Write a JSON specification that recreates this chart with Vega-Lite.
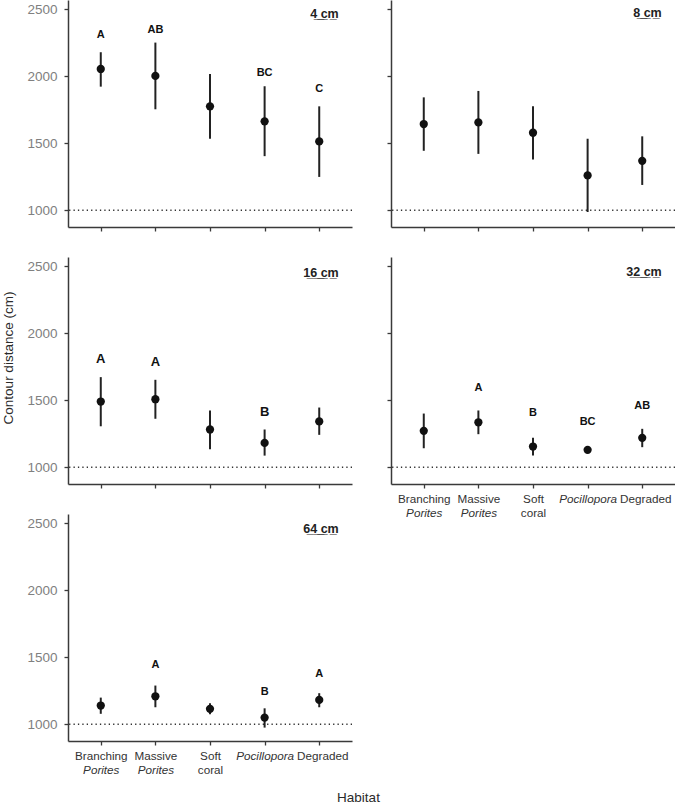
{
 "$schema": "https://vega.github.io/schema/vega-lite/v6.json",
 "padding": {"left": 0, "top": 0, "right": 0, "bottom": 0},
 "autosize": {"type": "pad"},
 "background": "white",
 "data": {"values": [
  {"panel": "4 cm", "habitat": "Branching Porites", "mean": 2055, "lo": 1923, "hi": 2180, "letter": "A", "ly": 2310},
  {"panel": "4 cm", "habitat": "Massive Porites", "mean": 2003, "lo": 1754, "hi": 2252, "letter": "AB", "ly": 2347},
  {"panel": "4 cm", "habitat": "Soft coral", "mean": 1776, "lo": 1534, "hi": 2018, "letter": null, "ly": null},
  {"panel": "4 cm", "habitat": "Pocillopora", "mean": 1664, "lo": 1404, "hi": 1926, "letter": "BC", "ly": 2028},
  {"panel": "4 cm", "habitat": "Degraded", "mean": 1514, "lo": 1249, "hi": 1776, "letter": "C", "ly": 1903},
  {"panel": "8 cm", "habitat": "Branching Porites", "mean": 1644, "lo": 1444, "hi": 1843, "letter": null, "ly": null},
  {"panel": "8 cm", "habitat": "Massive Porites", "mean": 1656, "lo": 1421, "hi": 1891, "letter": null, "ly": null},
  {"panel": "8 cm", "habitat": "Soft coral", "mean": 1579, "lo": 1379, "hi": 1776, "letter": null, "ly": null},
  {"panel": "8 cm", "habitat": "Pocillopora", "mean": 1260, "lo": 987, "hi": 1534, "letter": null, "ly": null},
  {"panel": "8 cm", "habitat": "Degraded", "mean": 1369, "lo": 1189, "hi": 1552, "letter": null, "ly": null},
  {"panel": "16 cm", "habitat": "Branching Porites", "mean": 1491, "lo": 1306, "hi": 1673, "letter": "A", "ly": 1810},
  {"panel": "16 cm", "habitat": "Massive Porites", "mean": 1508, "lo": 1362, "hi": 1653, "letter": "A", "ly": 1785},
  {"panel": "16 cm", "habitat": "Soft coral", "mean": 1282, "lo": 1135, "hi": 1424, "letter": null, "ly": null},
  {"panel": "16 cm", "habitat": "Pocillopora", "mean": 1182, "lo": 1087, "hi": 1282, "letter": "B", "ly": 1411},
  {"panel": "16 cm", "habitat": "Degraded", "mean": 1342, "lo": 1242, "hi": 1446, "letter": null, "ly": null},
  {"panel": "32 cm", "habitat": "Branching Porites", "mean": 1272, "lo": 1142, "hi": 1401, "letter": null, "ly": null},
  {"panel": "32 cm", "habitat": "Massive Porites", "mean": 1336, "lo": 1247, "hi": 1424, "letter": "A", "ly": 1593},
  {"panel": "32 cm", "habitat": "Soft coral", "mean": 1155, "lo": 1087, "hi": 1220, "letter": "B", "ly": 1406},
  {"panel": "32 cm", "habitat": "Pocillopora", "mean": 1130, "lo": 1122, "hi": 1138, "letter": "BC", "ly": 1336},
  {"panel": "32 cm", "habitat": "Degraded", "mean": 1220, "lo": 1150, "hi": 1287, "letter": "AB", "ly": 1459},
  {"panel": "64 cm", "habitat": "Branching Porites", "mean": 1140, "lo": 1078, "hi": 1199, "letter": null, "ly": null},
  {"panel": "64 cm", "habitat": "Massive Porites", "mean": 1209, "lo": 1127, "hi": 1289, "letter": "A", "ly": 1443},
  {"panel": "64 cm", "habitat": "Soft coral", "mean": 1115, "lo": 1075, "hi": 1157, "letter": null, "ly": null},
  {"panel": "64 cm", "habitat": "Pocillopora", "mean": 1050, "lo": 975, "hi": 1119, "letter": "B", "ly": 1244},
  {"panel": "64 cm", "habitat": "Degraded", "mean": 1182, "lo": 1127, "hi": 1232, "letter": "A", "ly": 1373}
 ]},
 "columns": 2,
 "spacing": {"row": 30, "column": 39},
 "bounds": "flush",
 "concat": [
  {
   "width": 284, "height": 227,
   "transform": [{"filter": "datum.panel == '4 cm'"}],
   "layer": [
    {"transform": [{"filter": "datum.habitat == 'Degraded'"}],
     "mark": {"type": "rule", "color": "#333", "strokeWidth": 1.3, "strokeDash": [1.3, 3.1]},
     "encoding": {"y": {"datum": 1000, "type": "quantitative", "axis": {"values": [1000, 1500, 2000, 2500], "format": "d", "title": null}}}},
    {"mark": {"type": "rule", "color": "#222", "strokeWidth": 2},
     "encoding": {
      "x": {"field": "habitat", "type": "nominal", "scale": {"type": "point", "domain": ["Branching Porites", "Massive Porites", "Soft coral", "Pocillopora", "Degraded"], "padding": 0.6}, "axis": {"labels": false, "title": null}},
      "y": {"field": "lo", "type": "quantitative", "scale": {"domain": [875, 2570], "nice": false, "zero": false}, "axis": {"values": [1000, 1500, 2000, 2500], "format": "d", "title": null}},
      "y2": {"field": "hi"}}},
    {"mark": {"type": "circle", "size": 68, "opacity": 1, "color": "#111"},
     "encoding": {
      "x": {"field": "habitat", "type": "nominal", "scale": {"type": "point", "domain": ["Branching Porites", "Massive Porites", "Soft coral", "Pocillopora", "Degraded"], "padding": 0.6}, "axis": null},
      "y": {"field": "mean", "type": "quantitative", "axis": {"values": [1000, 1500, 2000, 2500], "format": "d", "title": null}}}},
    {"transform": [{"filter": "datum.letter"}],
     "mark": {"type": "text", "fontWeight": "bold", "fontSize": 11, "color": "#111", "baseline": "middle"},
     "encoding": {
      "x": {"field": "habitat", "type": "nominal", "scale": {"type": "point", "domain": ["Branching Porites", "Massive Porites", "Soft coral", "Pocillopora", "Degraded"], "padding": 0.6}, "axis": null},
      "y": {"field": "ly", "type": "quantitative", "axis": {"values": [1000, 1500, 2000, 2500], "format": "d", "title": null}},
      "text": {"field": "letter"}}},
    {"transform": [{"filter": "datum.habitat == 'Degraded'"}],
     "mark": {"type": "text", "fontWeight": "bold", "fontSize": 12.5, "color": "#222", "align": "right", "baseline": "middle", "dx": 19.5, "text": "4\u0332 \u0332c\u0332m\u0332"},
     "encoding": {
      "x": {"field": "habitat", "type": "nominal", "scale": {"type": "point", "domain": ["Branching Porites", "Massive Porites", "Soft coral", "Pocillopora", "Degraded"], "padding": 0.6}, "axis": null},
      "y": {"datum": 2462, "type": "quantitative", "axis": {"values": [1000, 1500, 2000, 2500], "format": "d", "title": null}}}}
   ],
   "resolve": {"scale": {"x": "independent"}}
  },
  {
   "width": 284, "height": 227,
   "transform": [{"filter": "datum.panel == '8 cm'"}],
   "layer": [
    {"transform": [{"filter": "datum.habitat == 'Degraded'"}],
     "mark": {"type": "rule", "color": "#333", "strokeWidth": 1.3, "strokeDash": [1.3, 3.1]},
     "encoding": {"y": {"datum": 1000, "type": "quantitative", "axis": {"values": [1000, 1500, 2000, 2500], "labels": false, "title": null}}}},
    {"mark": {"type": "rule", "color": "#222", "strokeWidth": 2},
     "encoding": {
      "x": {"field": "habitat", "type": "nominal", "scale": {"type": "point", "domain": ["Branching Porites", "Massive Porites", "Soft coral", "Pocillopora", "Degraded"], "padding": 0.6}, "axis": {"labels": false, "title": null}},
      "y": {"field": "lo", "type": "quantitative", "scale": {"domain": [875, 2570], "nice": false, "zero": false}, "axis": {"values": [1000, 1500, 2000, 2500], "labels": false, "title": null}},
      "y2": {"field": "hi"}}},
    {"mark": {"type": "circle", "size": 68, "opacity": 1, "color": "#111"},
     "encoding": {
      "x": {"field": "habitat", "type": "nominal", "scale": {"type": "point", "domain": ["Branching Porites", "Massive Porites", "Soft coral", "Pocillopora", "Degraded"], "padding": 0.6}, "axis": null},
      "y": {"field": "mean", "type": "quantitative", "axis": {"values": [1000, 1500, 2000, 2500], "labels": false, "title": null}}}},
    {"transform": [{"filter": "datum.habitat == 'Degraded'"}],
     "mark": {"type": "text", "fontWeight": "bold", "fontSize": 12.5, "color": "#222", "align": "right", "baseline": "middle", "dx": 19.5, "text": "8\u0332 \u0332c\u0332m\u0332"},
     "encoding": {
      "x": {"field": "habitat", "type": "nominal", "scale": {"type": "point", "domain": ["Branching Porites", "Massive Porites", "Soft coral", "Pocillopora", "Degraded"], "padding": 0.6}, "axis": null},
      "y": {"datum": 2470, "type": "quantitative", "axis": {"values": [1000, 1500, 2000, 2500], "labels": false, "title": null}}}}
   ],
   "resolve": {"scale": {"x": "independent"}}
  },
  {
   "width": 284, "height": 227,
   "transform": [{"filter": "datum.panel == '16 cm'"}],
   "layer": [
    {"transform": [{"filter": "datum.habitat == 'Degraded'"}],
     "mark": {"type": "rule", "color": "#333", "strokeWidth": 1.3, "strokeDash": [1.3, 3.1]},
     "encoding": {"y": {"datum": 1000, "type": "quantitative", "axis": {"values": [1000, 1500, 2000, 2500], "format": "d", "title": "Contour distance (cm)", "titleX": -60, "titleY": 100.5, "titleAlign": "center", "titleBaseline": "middle", "titleAngle": -90}}}},
    {"mark": {"type": "rule", "color": "#222", "strokeWidth": 2},
     "encoding": {
      "x": {"field": "habitat", "type": "nominal", "scale": {"type": "point", "domain": ["Branching Porites", "Massive Porites", "Soft coral", "Pocillopora", "Degraded"], "padding": 0.6}, "axis": {"labels": false, "title": null}},
      "y": {"field": "lo", "type": "quantitative", "scale": {"domain": [875, 2570], "nice": false, "zero": false}, "axis": {"values": [1000, 1500, 2000, 2500], "format": "d", "title": "Contour distance (cm)", "titleX": -60, "titleY": 100.5, "titleAlign": "center", "titleBaseline": "middle", "titleAngle": -90}},
      "y2": {"field": "hi"}}},
    {"mark": {"type": "circle", "size": 68, "opacity": 1, "color": "#111"},
     "encoding": {
      "x": {"field": "habitat", "type": "nominal", "scale": {"type": "point", "domain": ["Branching Porites", "Massive Porites", "Soft coral", "Pocillopora", "Degraded"], "padding": 0.6}, "axis": null},
      "y": {"field": "mean", "type": "quantitative", "axis": {"values": [1000, 1500, 2000, 2500], "format": "d", "title": "Contour distance (cm)", "titleX": -60, "titleY": 100.5, "titleAlign": "center", "titleBaseline": "middle", "titleAngle": -90}}}},
    {"transform": [{"filter": "datum.letter"}],
     "mark": {"type": "text", "fontWeight": "bold", "fontSize": 13, "color": "#111", "baseline": "middle"},
     "encoding": {
      "x": {"field": "habitat", "type": "nominal", "scale": {"type": "point", "domain": ["Branching Porites", "Massive Porites", "Soft coral", "Pocillopora", "Degraded"], "padding": 0.6}, "axis": null},
      "y": {"field": "ly", "type": "quantitative", "axis": {"values": [1000, 1500, 2000, 2500], "format": "d", "title": "Contour distance (cm)", "titleX": -60, "titleY": 100.5, "titleAlign": "center", "titleBaseline": "middle", "titleAngle": -90}},
      "text": {"field": "letter"}}},
    {"transform": [{"filter": "datum.habitat == 'Degraded'"}],
     "mark": {"type": "text", "fontWeight": "bold", "fontSize": 12.5, "color": "#222", "align": "right", "baseline": "middle", "dx": 19.5, "text": "1\u03326\u0332 \u0332c\u0332m\u0332"},
     "encoding": {
      "x": {"field": "habitat", "type": "nominal", "scale": {"type": "point", "domain": ["Branching Porites", "Massive Porites", "Soft coral", "Pocillopora", "Degraded"], "padding": 0.6}, "axis": null},
      "y": {"datum": 2452, "type": "quantitative", "axis": {"values": [1000, 1500, 2000, 2500], "format": "d", "title": "Contour distance (cm)", "titleX": -60, "titleY": 100.5, "titleAlign": "center", "titleBaseline": "middle", "titleAngle": -90}}}}
   ],
   "resolve": {"scale": {"x": "independent"}}
  },
  {
   "width": 284, "height": 227,
   "transform": [{"filter": "datum.panel == '32 cm'"}],
   "layer": [
    {"transform": [{"filter": "datum.habitat == 'Degraded'"}],
     "mark": {"type": "rule", "color": "#333", "strokeWidth": 1.3, "strokeDash": [1.3, 3.1]},
     "encoding": {"y": {"datum": 1000, "type": "quantitative", "axis": {"values": [1000, 1500, 2000, 2500], "labels": false, "title": null}}}},
    {"mark": {"type": "rule", "color": "#222", "strokeWidth": 2},
     "encoding": {
      "x": {"field": "habitat", "type": "nominal", "scale": {"type": "point", "domain": ["Branching Porites", "Massive Porites", "Soft coral", "Pocillopora", "Degraded"], "padding": 0.6}, "axis": {"title": null, "labelExpr": "indexof(datum.value, ' ') > 0 ? substring(datum.value, 0, indexof(datum.value, ' ')) : datum.value", "labelFontStyle": {"condition": {"test": "datum.value === 'Pocillopora'", "value": "italic"}, "value": "normal"}, "labelOffset": {"condition": {"test": "datum.value === 'Degraded'", "value": 3}, "value": 0}}},
      "y": {"field": "lo", "type": "quantitative", "scale": {"domain": [875, 2570], "nice": false, "zero": false}, "axis": {"values": [1000, 1500, 2000, 2500], "labels": false, "title": null}},
      "y2": {"field": "hi"}}},
    {"mark": {"type": "circle", "size": 68, "opacity": 1, "color": "#111"},
     "encoding": {
      "x": {"field": "habitat", "type": "nominal", "scale": {"type": "point", "domain": ["Branching Porites", "Massive Porites", "Soft coral", "Pocillopora", "Degraded"], "padding": 0.6}, "axis": null},
      "y": {"field": "mean", "type": "quantitative", "axis": {"values": [1000, 1500, 2000, 2500], "labels": false, "title": null}}}},
    {"transform": [{"filter": "datum.letter"}],
     "mark": {"type": "text", "fontWeight": "bold", "fontSize": 11, "color": "#111", "baseline": "middle"},
     "encoding": {
      "x": {"field": "habitat", "type": "nominal", "scale": {"type": "point", "domain": ["Branching Porites", "Massive Porites", "Soft coral", "Pocillopora", "Degraded"], "padding": 0.6}, "axis": null},
      "y": {"field": "ly", "type": "quantitative", "axis": {"values": [1000, 1500, 2000, 2500], "labels": false, "title": null}},
      "text": {"field": "letter"}}},
    {"transform": [{"filter": "datum.habitat == 'Degraded'"}],
     "mark": {"type": "text", "fontWeight": "bold", "fontSize": 12.5, "color": "#222", "align": "right", "baseline": "middle", "dx": 19.5, "text": "3\u03322\u0332 \u0332c\u0332m\u0332"},
     "encoding": {
      "x": {"field": "habitat", "type": "nominal", "scale": {"type": "point", "domain": ["Branching Porites", "Massive Porites", "Soft coral", "Pocillopora", "Degraded"], "padding": 0.6}, "axis": null},
      "y": {"datum": 2457, "type": "quantitative", "axis": {"values": [1000, 1500, 2000, 2500], "labels": false, "title": null}}}},
    {"mark": {"type": "point", "opacity": 0},
     "encoding": {
      "x": {"field": "habitat", "type": "nominal", "scale": {"type": "point", "domain": ["Branching Porites", "Massive Porites", "Soft coral", "Pocillopora", "Degraded"], "padding": 0.6}, "axis": {"orient": "bottom", "title": null, "domain": false, "ticks": false, "labelPadding": 23, "labelExpr": "indexof(datum.value, ' ') > 0 ? substring(datum.value, indexof(datum.value, ' ') + 1) : ''", "labelFontStyle": {"condition": {"test": "indexof(datum.value, 'Porites') >= 0", "value": "italic"}, "value": "normal"}}},
      "y": {"field": "mean", "type": "quantitative", "axis": {"values": [1000, 1500, 2000, 2500], "labels": false, "title": null}}}}
   ],
   "resolve": {"scale": {"x": "independent"}}
  },
  {
   "width": 284, "height": 227,
   "transform": [{"filter": "datum.panel == '64 cm'"}],
   "layer": [
    {"transform": [{"filter": "datum.habitat == 'Degraded'"}],
     "mark": {"type": "rule", "color": "#333", "strokeWidth": 1.3, "strokeDash": [1.3, 3.1]},
     "encoding": {"y": {"datum": 1000, "type": "quantitative", "axis": {"values": [1000, 1500, 2000, 2500], "format": "d", "title": null}}}},
    {"mark": {"type": "rule", "color": "#222", "strokeWidth": 2},
     "encoding": {
      "x": {"field": "habitat", "type": "nominal", "scale": {"type": "point", "domain": ["Branching Porites", "Massive Porites", "Soft coral", "Pocillopora", "Degraded"], "padding": 0.6}, "axis": {"title": null, "labelExpr": "indexof(datum.value, ' ') > 0 ? substring(datum.value, 0, indexof(datum.value, ' ')) : datum.value", "labelFontStyle": {"condition": {"test": "datum.value === 'Pocillopora'", "value": "italic"}, "value": "normal"}, "labelOffset": {"condition": {"test": "datum.value === 'Degraded'", "value": 3}, "value": 0}}},
      "y": {"field": "lo", "type": "quantitative", "scale": {"domain": [875, 2570], "nice": false, "zero": false}, "axis": {"values": [1000, 1500, 2000, 2500], "format": "d", "title": null}},
      "y2": {"field": "hi"}}},
    {"mark": {"type": "circle", "size": 68, "opacity": 1, "color": "#111"},
     "encoding": {
      "x": {"field": "habitat", "type": "nominal", "scale": {"type": "point", "domain": ["Branching Porites", "Massive Porites", "Soft coral", "Pocillopora", "Degraded"], "padding": 0.6}, "axis": null},
      "y": {"field": "mean", "type": "quantitative", "axis": {"values": [1000, 1500, 2000, 2500], "format": "d", "title": null}}}},
    {"transform": [{"filter": "datum.letter"}],
     "mark": {"type": "text", "fontWeight": "bold", "fontSize": 11, "color": "#111", "baseline": "middle"},
     "encoding": {
      "x": {"field": "habitat", "type": "nominal", "scale": {"type": "point", "domain": ["Branching Porites", "Massive Porites", "Soft coral", "Pocillopora", "Degraded"], "padding": 0.6}, "axis": null},
      "y": {"field": "ly", "type": "quantitative", "axis": {"values": [1000, 1500, 2000, 2500], "format": "d", "title": null}},
      "text": {"field": "letter"}}},
    {"transform": [{"filter": "datum.habitat == 'Degraded'"}],
     "mark": {"type": "text", "fontWeight": "bold", "fontSize": 12.5, "color": "#222", "align": "right", "baseline": "middle", "dx": 19.5, "text": "6\u03324\u0332 \u0332c\u0332m\u0332"},
     "encoding": {
      "x": {"field": "habitat", "type": "nominal", "scale": {"type": "point", "domain": ["Branching Porites", "Massive Porites", "Soft coral", "Pocillopora", "Degraded"], "padding": 0.6}, "axis": null},
      "y": {"datum": 2458, "type": "quantitative", "axis": {"values": [1000, 1500, 2000, 2500], "format": "d", "title": null}}}},
    {"mark": {"type": "point", "opacity": 0},
     "encoding": {
      "x": {"field": "habitat", "type": "nominal", "scale": {"type": "point", "domain": ["Branching Porites", "Massive Porites", "Soft coral", "Pocillopora", "Degraded"], "padding": 0.6}, "axis": {"orient": "bottom", "title": "Habitat", "titleX": 290, "titleY": 56, "titleAlign": "center", "titleBaseline": "middle", "titleAngle": 0, "domain": false, "ticks": false, "labelPadding": 23, "labelExpr": "indexof(datum.value, ' ') > 0 ? substring(datum.value, indexof(datum.value, ' ') + 1) : ''", "labelFontStyle": {"condition": {"test": "indexof(datum.value, 'Porites') >= 0", "value": "italic"}, "value": "normal"}}},
      "y": {"field": "mean", "type": "quantitative", "axis": {"values": [1000, 1500, 2000, 2500], "format": "d", "title": null}}}}
   ],
   "resolve": {"scale": {"x": "independent"}}
  }
 ],
 "config": {
  "view": {"stroke": null},
  "font": "Liberation Sans",
  "axis": {"grid": false, "domainColor": "#3a3a3a", "tickColor": "#3a3a3a", "domainWidth": 1.5, "tickWidth": 1.3, "tickSize": 4, "labelFont": "Liberation Sans", "titleFont": "Liberation Sans", "titleFontWeight": "normal", "titleColor": "#2a2a2a", "titleFontSize": 13.5},
  "axisY": {"labelFontSize": 13.5, "labelColor": "#808080", "labelPadding": 7},
  "axisX": {"labelFontSize": 11.7, "labelColor": "#333333", "labelAngle": 0, "labelPadding": 5}
 }
}
